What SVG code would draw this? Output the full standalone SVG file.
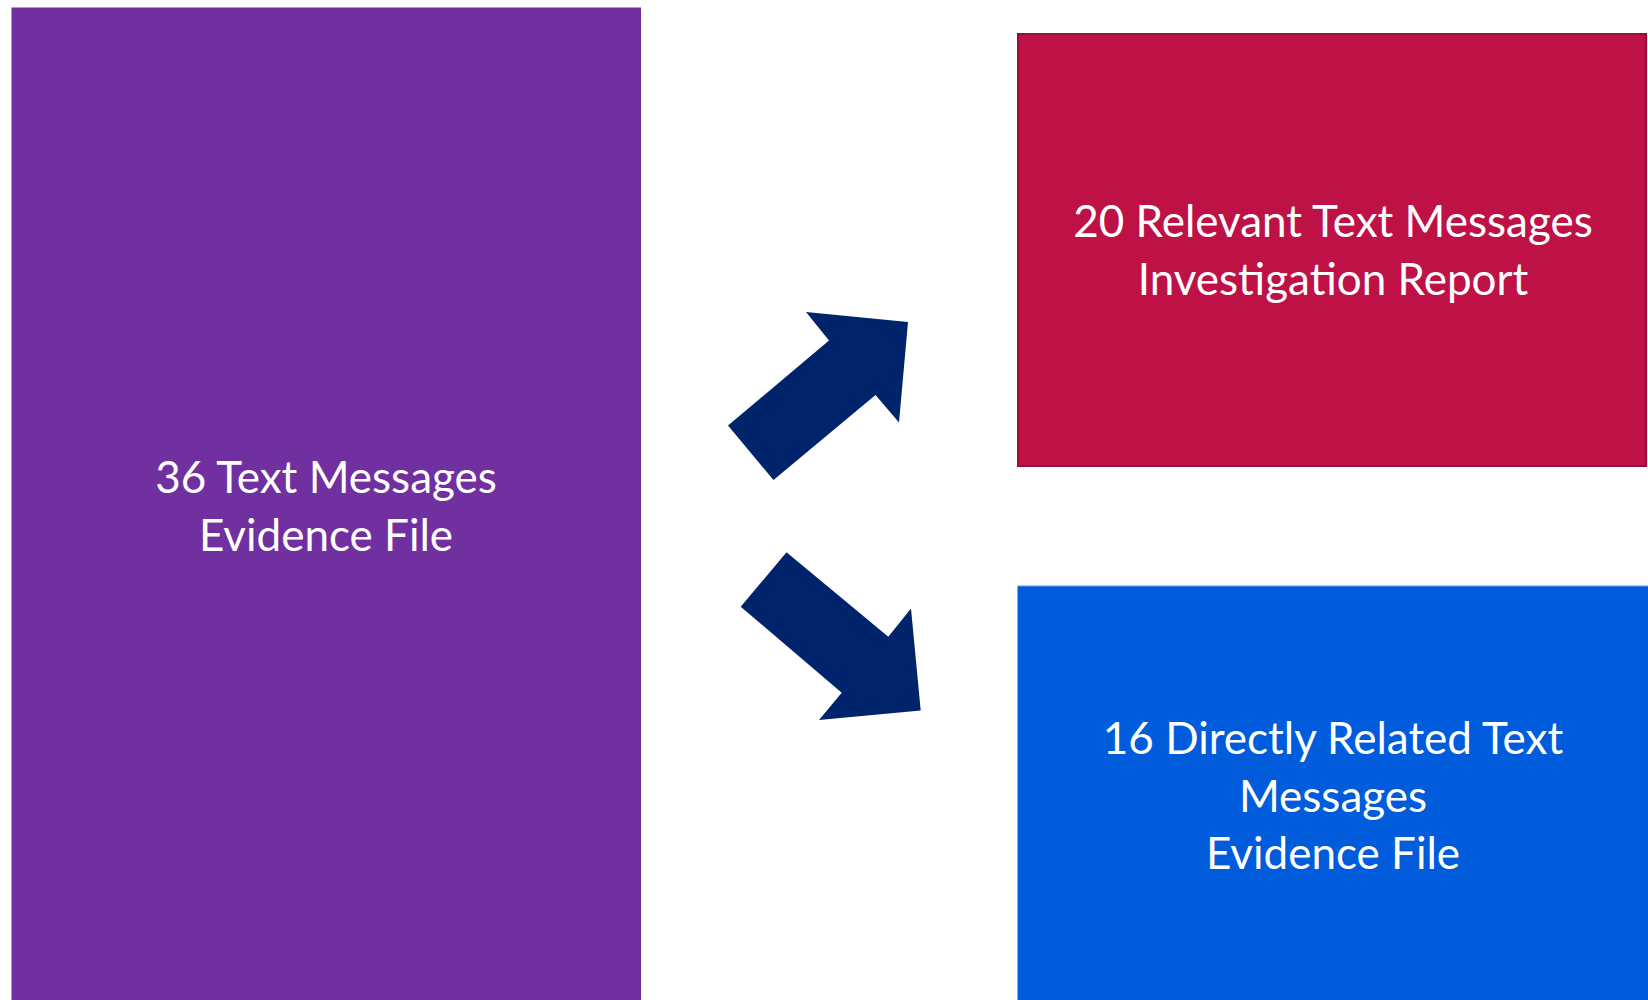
<svg xmlns="http://www.w3.org/2000/svg" width="1648" height="1000" viewBox="0 0 1648 1000">
<style>
.lbl{font-family:Lato,"Open Sans","Liberation Sans",sans-serif;font-size:44px;fill:#ffffff;text-anchor:middle}
.arrow{fill:#00246B}
</style>
<rect x="0" y="0" width="1648" height="1000" fill="#ffffff"/>
<g id="node-evidence">
<rect x="11.5" y="7.5" width="629.5" height="1000" fill="#7030A0"/>
<text class="lbl" x="326" y="493">36 Text Messages</text>
<text class="lbl" x="326" y="551">Evidence File</text>
</g>
<g id="node-report">
<rect x="1018" y="34" width="628" height="432" fill="#BE1145" stroke="#9C0D3A" stroke-width="2"/>
<text class="lbl" x="1333" y="237">20 Relevant Text Messages</text>
<text class="lbl" x="1333" y="295">Investigation Report</text>
</g>
<g id="node-related">
<rect x="1017.5" y="586" width="631" height="420" fill="#005CDB"/>
<line x1="1017.5" y1="586" x2="1648" y2="586" stroke="#6A9FE8" stroke-width="1"/>
<text class="lbl" x="1333" y="754">16 Directly Related Text</text>
<text class="lbl" x="1333" y="812">Messages</text>
<text class="lbl" x="1333" y="869">Evidence File</text>
</g>
<g id="connectors">
<polygon class="arrow" points="806,312 908,322 899,422.5 875.5,395 773.5,480 728,425.6 829,340.5"/>
<polygon class="arrow" points="786.5,552.3 888.3,636.7 911,608.5 920.7,710.5 819,720 841.7,692.7 740.7,606.7"/>
</g>
</svg>
